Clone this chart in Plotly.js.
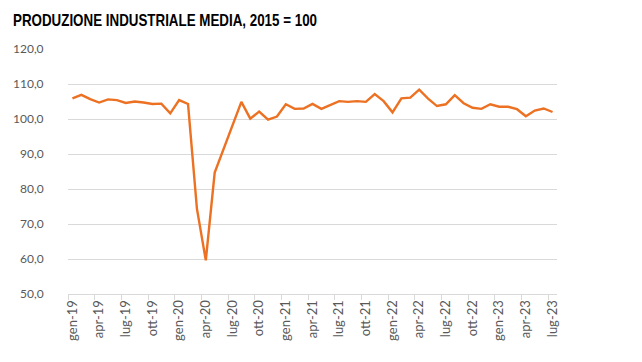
<!DOCTYPE html>
<html>
<head>
<meta charset="utf-8">
<script src="https://cdn.plot.ly/plotly-3.0.1.min.js"></script>
<style>html,body{margin:0;padding:0;background:#fff;}#chart{width:642px;height:362px;}</style>
</head>
<body>
<div id="chart"></div>
<script>
const months = ["gen","feb","mar","apr","mag","giu","lug","ago","set","ott","nov","dic"];
const years = ["19","20","21","22","23"];
const categories = [];
for (const y of years) for (const m of months) categories.push(m + "-" + y);
const monthLabels = categories.slice(0, 55); // gen-19 .. lug-23

const production = [
  105.9, 106.9, 105.7, 104.7, 105.6, 105.4, 104.6, 105.0, 104.7, 104.3, 104.4, 101.6,
  105.4, 104.3, 74.4, 59.6, 84.7, 91.4, 97.8, 104.9, 100.1, 102.1, 99.8, 100.7,
  104.2, 102.9, 103.0, 104.3, 102.9, 104.0, 105.1, 104.9, 105.1, 104.9, 107.1, 105.1,
  101.9, 105.9, 106.1, 108.4, 105.8, 103.7, 104.2, 106.8, 104.5, 103.2, 102.9, 104.2,
  103.5, 103.5, 102.8, 100.8, 102.4, 103.0, 102.0
];

const tickEvery = 3;
const idx = production.map((_, i) => i);
const tickVals = idx.filter(i => i % tickEvery === 0);
const tickText = tickVals.map(i => monthLabels[i]);
const boundaryVals = tickVals.map(v => v - 0.5);

const font = "Lato, 'Open Sans', 'Liberation Sans', sans-serif";

Plotly.newPlot("chart", [{
  x: idx,
  y: production,
  text: monthLabels,
  type: "scatter",
  mode: "lines",
  line: {color: "#EC7122", width: 2.4},
  hoverinfo: "text+y"
}], {
  width: 642, height: 362,
  margin: {l: 68, r: 85, t: 49, b: 68},
  paper_bgcolor: "#fff",
  plot_bgcolor: "#fff",
  separators: ",.",
  showlegend: false,
  title: {
    text: "<b>PRODUZIONE INDUSTRIALE MEDIA, 2015 = 100</b>",
    font: {family: "'Liberation Sans', Arial, sans-serif", size: 16.5, color: "#000"},
    x: 13 / 642, xanchor: "left", xref: "container",
    y: 0.945, yanchor: "middle", yref: "container"
  },
  xaxis: {
    range: [-0.5, 54.5],
    tickmode: "array",
    tickvals: tickVals,
    ticktext: tickText,
    tickangle: -90,
    ticks: "",
    showgrid: false,
    zeroline: false,
    showline: true,
    linecolor: "#d9d9d9",
    linewidth: 1,
    tickfont: {family: font, size: 13, color: "#595959"},
    minor: {tickmode: "array", tickvals: boundaryVals, ticks: "outside", ticklen: 5, tickcolor: "#d9d9d9", showgrid: false},
    fixedrange: true
  },
  yaxis: {
    range: [50, 120],
    dtick: 10,
    tick0: 50,
    tickformat: ".1f",
    showgrid: true,
    gridcolor: "#d9d9d9",
    gridwidth: 1,
    zeroline: false,
    showline: false,
    ticks: "outside",
    ticklen: 21,
    tickcolor: "rgba(0,0,0,0)",
    tickfont: {family: font, size: 12, color: "#595959"},
    fixedrange: true
  }
}, {displayModeBar: false, staticPlot: true}).then(() => {
  const t = document.querySelector("#chart .gtitle");
  if (t) {
    t.setAttribute("textLength", "304");
    t.setAttribute("lengthAdjust", "spacingAndGlyphs");
  }
});
</script>
</body>
</html>
